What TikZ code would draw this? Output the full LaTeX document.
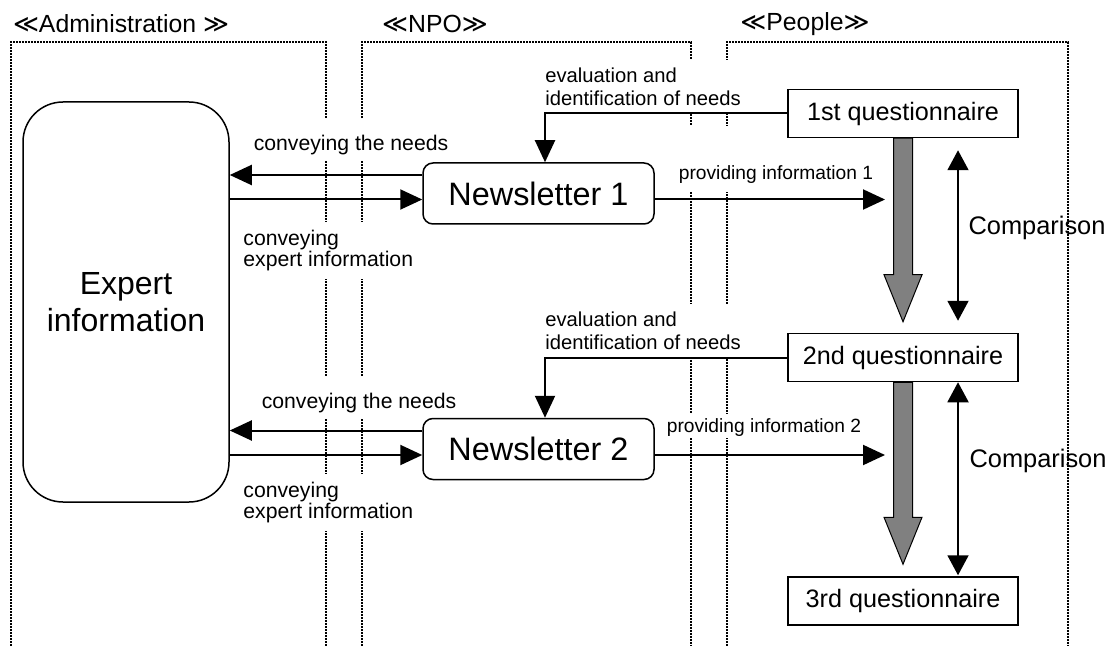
\documentclass[tikz,border=0pt]{standalone}
\usepackage{fontspec}
\setmainfont{Liberation Sans}
\newfontfamily\symfont{DejaVu Sans}
\usetikzlibrary{arrows.meta,calc}
\definecolor{arrowgray}{RGB}{128,128,128}

\tikzset{
  colframe/.style={line width=0.8pt, dash pattern=on 0.8pt off 0.7pt},
  hdr/.style={font=\fontsize{12.4}{15}\selectfont},
  expbox/.style={draw, line width=0.75pt, rounded corners=20pt, minimum width=103pt,
    minimum height=200pt, align=center, font=\fontsize{16}{18.5}\selectfont},
  newsbox/.style={draw, line width=0.75pt, rounded corners=5pt, minimum width=115.5pt,
    minimum height=30.5pt, font=\fontsize{16.2}{19}\selectfont},
  qbox/.style={draw, line width=0.75pt, minimum width=115pt, minimum height=24pt,
    font=\fontsize{12.6}{15}\selectfont},
  lbl/.style={fill=white, inner xsep=1pt, inner ysep=1pt, align=left},
  evtext/.style={font=\fontsize{10.1}{11.5}\selectfont},
  cvtext/.style={font=\fontsize{10.6}{10.5}\selectfont},
  pvtext/.style={font=\fontsize{9.6}{11}\selectfont},
  cmptext/.style={font=\fontsize{12.7}{15}\selectfont},
  flow/.style={line width=1pt, -{Triangle[length=11pt,width=10pt]}},
  cmp/.style={line width=0.9pt, {Triangle[length=10pt,width=10.5pt]}-{Triangle[length=10pt,width=10.5pt]}},
  grayarrow/.style={fill=arrowgray, draw=black, line width=0.5pt},
}

\begin{document}
\begin{tikzpicture}[x=0.5pt, y=-0.5pt]
  \useasboundingbox (0,0) rectangle (1111,646);
  %% Column frames and titles
  \draw[colframe] (11,646) -- (11,42) -- (326,42) -- (326,646);
  \draw[colframe] (362,646) -- (362,42) -- (691,42) -- (691,646);
  \draw[colframe] (727,646) -- (727,42) -- (1068,42) -- (1068,646);
  \node[hdr] (hadm) at (121,24) {{\symfont ≪}Administration {\symfont ≫}};
  \node[hdr] (hnpo) at (435,24) {{\symfont ≪}NPO{\symfont ≫}};
  \node[hdr] (hppl) at (805,24) {{\symfont ≪}People{\symfont ≫}};
  %% Labels (white boxes, they hide the frames)
  \node[lbl, evtext, anchor=south west, inner ysep=4pt] (leval1) at (543,114) {evaluation and\\identification of needs};
  \node[lbl, evtext, anchor=south west, inner ysep=4pt] (leval2) at (543,358) {evaluation and\\identification of needs};
  \node[lbl, cvtext, anchor=base, text height=15pt, text depth=4pt] (lneeds1) at (351,151) {conveying the needs};
  \node[lbl, cvtext, anchor=base, text height=15pt, text depth=4pt] (lneeds2) at (359,408) {conveying the needs};
  \node[lbl, cvtext, anchor=north west, inner ysep=4pt] (lexp1) at (241,222) {conveying\\expert information};
  \node[lbl, cvtext, anchor=north west, inner ysep=4pt] (lexp2) at (241,474) {conveying\\expert information};
  \node[lbl, pvtext, anchor=base, text height=26pt, text depth=5pt] (lprov1) at (776,180) {providing information 1};
  \node[lbl, pvtext, anchor=base, text height=8pt, text depth=2pt] (lprov2) at (764,432) {providing information 2};
  \node[cmptext] (lcmp1) at (1037,228) {Comparison};
  \node[cmptext] (lcmp2) at (1038,461) {Comparison};
  %% Boxes
  \node[expbox] (expert) at (126,302) {Expert\\information};
  \node[newsbox] (news1) at (538.5,193.5) {Newsletter 1};
  \node[newsbox] (news2) at (538.5,449) {Newsletter 2};
  \node[qbox] (q1) at (903,113.5) {1st questionnaire};
  \node[qbox] (q2) at (903,357.5) {2nd questionnaire};
  \node[qbox] (q3) at (903,601) {3rd questionnaire};
  %% Flows between administration, NPO and people
  \coordinate (n1a) at ($(news1.west)+(0,-18.5)$);
  \coordinate (n1b) at ($(news1.west)+(0,6)$);
  \coordinate (n1c) at ($(news1.east)+(0,6)$);
  \coordinate (n2a) at ($(news2.west)+(0,-18.5)$);
  \coordinate (n2b) at ($(news2.west)+(0,6)$);
  \coordinate (n2c) at ($(news2.east)+(0,6)$);
  \coordinate (pend) at ($(q1.south)+(-18,0)$);
  \draw[flow] (n1a) -- (n1a -| expert.east);
  \draw[flow] (n1b -| expert.east) -- (n1b);
  \draw[flow] (n1c) -- (n1c -| pend);
  \draw[flow] (n2a) -- (n2a -| expert.east);
  \draw[flow] (n2b -| expert.east) -- (n2b);
  \draw[flow] (n2c) -- (n2c -| pend);
  \draw[flow] (q1.west) -| ($(news1.north)+(6.5,0)$);
  \draw[flow] (q2.west) -| ($(news2.north)+(6.5,0)$);
  %% Big gray arrows between questionnaires
  \draw[grayarrow] ($(q1.south)+(-9.5,0)$) -- ($(q2.north)+(-9.5,-58)$) -- ++(-9.5,0)
    -- ($(q2.north)+(0,-11)$) -- ($(q2.north)+(19,-58)$) -- ++(-9.5,0) -- ($(q1.south)+(9.5,0)$) -- cycle;
  \draw[grayarrow] ($(q2.south)+(-9.5,0)$) -- ($(q3.north)+(-9.5,-59)$) -- ++(-9.5,0)
    -- ($(q3.north)+(0,-12)$) -- ($(q3.north)+(19,-59)$) -- ++(-9.5,0) -- ($(q2.south)+(9.5,0)$) -- cycle;
  %% Comparison arrows
  \draw[cmp] ($(q1.south)+(55,12)$) -- ($(q2.north)+(55,-12)$);
  \draw[cmp] ($(q2.south)+(55,0)$) -- ($(q3.north)+(55,-1)$);
\end{tikzpicture}
\end{document}
